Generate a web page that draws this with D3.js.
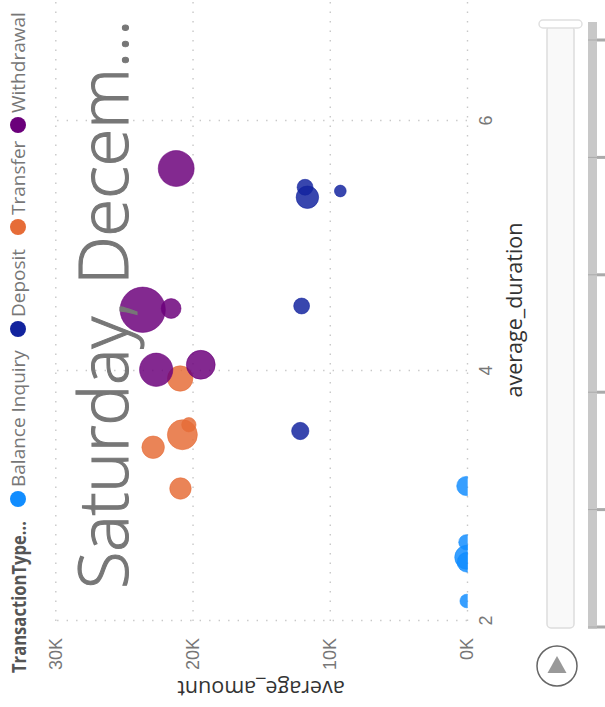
<!DOCTYPE html>
<html>
<head>
<meta charset="utf-8">
<script src="https://cdn.jsdelivr.net/npm/d3@7"></script>
<style>
  html, body { margin: 0; padding: 0; background: #fff; }
  svg { display: block; font-family: "Open Sans", "Noto Sans", sans-serif; }
  .grid line { stroke: #c8c8c8; stroke-width: 1.4; stroke-dasharray: 1.4 8.1; }
  .grid path { display: none; }
  .tick text { fill: #777; font-size: 18px; }
</style>
</head>
<body>
<div id="content"></div>
<script>
var width = 605, height = 707

// the whole visual is turned a quarter, so the chart is laid out flat in "chart"
var types = ['Balance Inquiry', 'Deposit', 'Transfer', 'Withdrawal']
var typeColors = ['#118DFF', '#12239E', '#E66C37', '#6B007B']
var legendNames = ['Balance Inquiry', 'Deposit', 'Transfer', 'Withdrawal']

var pointType = [
    'Balance Inquiry', 'Balance Inquiry', 'Balance Inquiry', 'Balance Inquiry', 'Balance Inquiry',
    'Deposit', 'Deposit', 'Deposit', 'Deposit', 'Deposit',
    'Transfer', 'Transfer', 'Transfer', 'Transfer', 'Transfer',
    'Withdrawal', 'Withdrawal', 'Withdrawal', 'Withdrawal', 'Withdrawal']
var pointDuration = [
    3.08, 2.63, 2.51, 2.47, 2.16,
    5.44, 5.47, 5.39, 4.52, 3.52,
    3.94, 3.57, 3.49, 3.39, 3.06,
    5.62, 4.49, 4.50, 4.01, 4.05]
var pointAmount = [
    50, 50, 20, 0, 20,
    9230, 11800, 11630, 12050, 12150,
    20900, 20270, 20740, 22870, 20880,
    21190, 23630, 21560, 22650, 19400]
var pointSize = [
    16, 10, 25, 17, 8,
    6, 11, 22, 11, 13,
    28, 9, 39, 22, 20,
    56, 89, 17, 48, 36]

var amountTicks = [0, 10000, 20000, 30000]
var durationTicks = [2, 4, 6]
var playTicks = [0, 1, 2, 3, 4, 5]

var svg = d3.select('#content')
    .append('svg')
    .attr('width', width)
    .attr('height', height)

var chart = svg.append('g')
    .attr('transform', `translate(0,${height}) rotate(-90)`)

var x = d3.scaleLinear().domain([2, 6]).range([86, 586])
var y = d3.scaleLinear().domain([0, 30000]).range([467, 55.3])
var r = d3.scaleSqrt().domain([0, 100]).range([0, 24])
var color = d3.scaleOrdinal().domain(types).range(typeColors)

chart.append('defs')
    .append('clipPath')
    .attr('id', 'plot')
    .append('rect')
    .attr('x', 86)
    .attr('y', 0)
    .attr('width', height - 86)
    .attr('height', 467.7)

// axes double as the dotted grid
chart.append('g')
    .attr('class', 'grid')
    .attr('transform', 'translate(0,467)')
    .call(d3.axisBottom(x).tickValues(durationTicks).tickSize(-411.7).tickPadding(12)
        .tickFormat(d3.format('d')))

chart.append('g')
    .attr('class', 'grid')
    .attr('transform', 'translate(86,0)')
    .call(d3.axisLeft(y).tickValues(amountTicks).tickSize(-(height - 86)).tickPadding(17)
        .tickFormat(d => d / 1000 + 'K'))

chart.append('g')
    .attr('clip-path', 'url(#plot)')
    .selectAll('circle')
    .data(pointType.map((t, i) => i))
    .join('circle')
    .attr('cx', i => x(pointDuration[i]))
    .attr('cy', i => y(pointAmount[i]))
    .attr('r', i => r(pointSize[i]))
    .attr('fill', i => color(pointType[i]))
    .attr('fill-opacity', 0.84)
    .attr('stroke', i => color(pointType[i]))
    .attr('stroke-opacity', 0.55)

// axis titles
chart.append('text')
    .text('average_duration')
    .attr('x', 397)
    .attr('y', 522)
    .attr('text-anchor', 'middle')
    .attr('font-size', 21.5)
    .attr('fill', '#333')

chart.append('text')
    .text('average_amount')
    .attr('transform', 'translate(26,261) rotate(-90)')
    .attr('text-anchor', 'middle')
    .attr('font-size', 21.5)
    .attr('fill', '#333')

// big card title sits over the bubbles
chart.append('text')
    .text('Saturday, Decem...')
    .attr('x', 118)
    .attr('y', 128)
    .attr('font-size', 69)
    .attr('font-weight', 300)
    .attr('letter-spacing', -0.3)
    .attr('fill', '#777')
    .attr('stroke', '#777')
    .attr('stroke-width', 1.1)

// legend
chart.append('text')
    .text('TransactionType...')
    .attr('x', 34)
    .attr('y', 26)
    .attr('font-size', 19)
    .attr('font-weight', 700)
    .attr('textLength', 152)
    .attr('lengthAdjust', 'spacingAndGlyphs')
    .attr('fill', '#555')

var legendX = d3.scaleOrdinal().domain(legendNames).range([208, 378, 480, 582])
var legend = chart.append('g')
    .selectAll('g')
    .data(legendNames)
    .join('g')
    .attr('transform', d => `translate(${legendX(d)},18)`)

legend.append('circle')
    .attr('r', 8)
    .attr('fill', d => color(d))

legend.append('text')
    .text(d => d)
    .attr('x', 12)
    .attr('y', 7)
    .attr('font-size', 19)
    .attr('fill', '#777')

// play axis on the far side
var play = d3.scaleLinear().domain([0, 5]).range([627, 40])

svg.append('rect')
    .attr('x', 588)
    .attr('y', 22)
    .attr('width', 9)
    .attr('height', 607)
    .attr('fill', '#c8c8c8')

svg.append('g')
    .selectAll('rect')
    .data(playTicks)
    .join('rect')
    .attr('x', 597)
    .attr('y', d => play(d) - 1.5)
    .attr('width', 8)
    .attr('height', 3)
    .attr('fill', '#aaa')

svg.append('g')
    .selectAll('line')
    .data(playTicks)
    .join('line')
    .attr('x1', 588)
    .attr('x2', 597)
    .attr('y1', d => play(d))
    .attr('y2', d => play(d))
    .attr('stroke', '#aaa')

svg.append('rect')
    .attr('x', 547)
    .attr('y', 26)
    .attr('width', 27)
    .attr('height', 602)
    .attr('rx', 4)
    .attr('fill', '#f9f9f9')
    .attr('stroke', '#ddd')
    .attr('stroke-width', 1.5)

svg.append('rect')
    .attr('x', 539)
    .attr('y', 20)
    .attr('width', 43)
    .attr('height', 8)
    .attr('rx', 4)
    .attr('fill', '#fff')
    .attr('stroke', '#e0e0e0')
    .attr('stroke-width', 1.5)

svg.append('circle')
    .attr('cx', 557)
    .attr('cy', 666)
    .attr('r', 20)
    .attr('fill', '#fff')
    .attr('stroke', '#666')
    .attr('stroke-width', 1.5)

svg.append('path')
    .attr('fill', '#999')
    .attr('d', 'M557,656L566.5,673L547.5,673Z')
</script>
</body>
</html>
